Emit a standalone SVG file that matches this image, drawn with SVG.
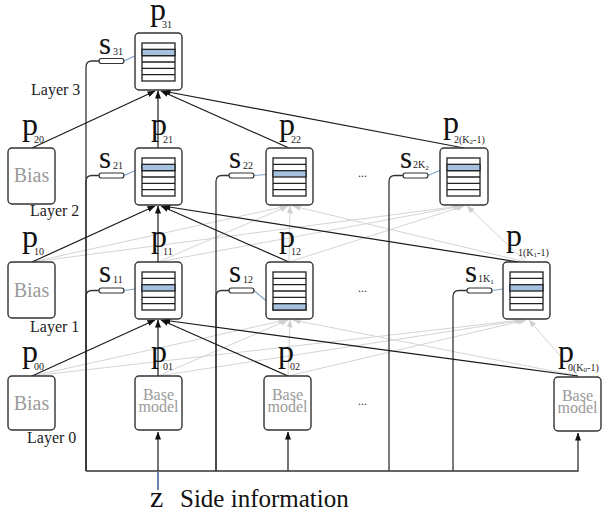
<svg xmlns="http://www.w3.org/2000/svg" width="602" height="512" viewBox="0 0 602 512" font-family="'Liberation Serif', 'DejaVu Serif', serif">
<defs>
<style>
text{font-family:'Liberation Serif','DejaVu Serif',serif}
.box{fill:#fff;stroke:#333;stroke-width:1.4}
.tbl{fill:#fff;stroke:#222;stroke-width:1.3}
.row{stroke:#222;stroke-width:1.3}
.hl{fill:#a4c2e0;stroke:#222;stroke-width:1.3}
.pill{fill:#fff;stroke:#333;stroke-width:1.2}
.wire{fill:none;stroke:#333;stroke-width:1.3}
.blk{fill:none;stroke:#1a1a1a;stroke-width:1.2;marker-end:url(#ab)}
.gry{fill:none;stroke:#d4d4d4;stroke-width:1;marker-end:url(#ag)}
.blu{fill:none;stroke:#7ea6cc;stroke-width:1.2;marker-end:url(#abl)}
.p{font-size:32px;fill:#111}
.s{font-size:31px;fill:#111}
.sub{font-size:10px;fill:#222}
.ssub{font-size:7px;fill:#222}
.lay{font-size:16px;fill:#222}
.bias{font-size:20px;fill:#9a9a9a}
.base{font-size:16px;fill:#9a9a9a}
.dots{font-size:12px;fill:#333}
</style>
<marker id="ab" markerWidth="8" markerHeight="6" refX="7.5" refY="3" orient="auto" markerUnits="userSpaceOnUse"><path d="M0,0 L8,3 L0,6 z" fill="#111"/></marker>
<marker id="ag" markerWidth="8" markerHeight="6" refX="7.5" refY="3" orient="auto" markerUnits="userSpaceOnUse"><path d="M0,0 L8,3 L0,6 z" fill="#d0d0d0"/></marker>
<marker id="abl" markerWidth="7" markerHeight="5" refX="6.5" refY="2.5" orient="auto" markerUnits="userSpaceOnUse"><path d="M0,0 L7,2.5 L0,5 z" fill="#7ea6cc"/></marker>
<g id="tbl1">
<rect class="tbl" x="0" y="0" width="33" height="38"/>
<rect class="hl" x="0" y="6.33" width="33" height="6.33"/>
<path class="row" d="M0,12.67H33M0,19H33M0,25.33H33M0,31.67H33"/>
</g>
<g id="tbl2">
<rect class="tbl" x="0" y="0" width="33" height="38"/>
<rect class="hl" x="0" y="12.67" width="33" height="6.33"/>
<path class="row" d="M0,6.33H33M0,25.33H33M0,31.67H33"/>
</g>
<g id="tbl5">
<rect class="tbl" x="0" y="0" width="33" height="38"/>
<rect class="hl" x="0" y="31.67" width="33" height="6.33"/>
<path class="row" d="M0,6.33H33M0,12.67H33M0,19H33M0,25.33H33"/>
</g>
</defs>
<rect width="602" height="512" fill="#fff"/>

<g id="connectors">
<g id="gray-links">
<path class="gry" d="M32,376 L286,320"/>
<path class="gry" d="M158,376 L288,320"/>
<path class="gry" d="M288,376 L290,320"/>
<path class="gry" d="M578,376 L293,320"/>
<path class="gry" d="M32,376 L522,320"/>
<path class="gry" d="M158,376 L524,320"/>
<path class="gry" d="M288,376 L526,320"/>
<path class="gry" d="M578,376 L529,320"/>
<path class="gry" d="M32,262 L287,206"/>
<path class="gry" d="M158,262 L288,206"/>
<path class="gry" d="M289,262 L290,206"/>
<path class="gry" d="M526,262 L293,206"/>
<path class="gry" d="M32,262 L460,206"/>
<path class="gry" d="M158,262 L462,206"/>
<path class="gry" d="M289,262 L464,206"/>
<path class="gry" d="M526,262 L467,206"/>
</g>
<g id="wires">
<path class="wire" d="M99,61 H92 Q86,61 86,67 V471"/>
<path class="wire" d="M99,175.5 H92 Q86,175.5 86,181.5 V471"/>
<path class="wire" d="M99,290.5 H92 Q86,290.5 86,296.5 V471"/>
<path class="wire" d="M229,175.5 H222 Q216,175.5 216,181.5 V471"/>
<path class="wire" d="M229,290.5 H222 Q216,290.5 216,296.5 V471"/>
<path class="wire" d="M403,175.5 H395 Q389,175.5 389,181.5 V471"/>
<path class="wire" d="M467,290.5 H459 Q453,290.5 453,296.5 V471"/>
<path class="wire" d="M86,471 H578 V433" marker-end="url(#ab)"/>
<path class="blk" d="M158,471 V432"/>
<path class="blk" d="M288,471 V432"/>
<path d="M158,472 V490" fill="none" stroke="#2b4f8c" stroke-width="1.4"/>
</g>
<g id="black-links">
<path class="blk" d="M32,148 L155,91"/>
<path class="blk" d="M158,148 L158,91"/>
<path class="blk" d="M289,148 L161,91"/>
<path class="blk" d="M464,148 L163,91"/>
<path class="blk" d="M32,262 L155,206"/>
<path class="blk" d="M158,262 L158,206"/>
<path class="blk" d="M289,262 L161,206"/>
<path class="blk" d="M519,262 L163,206"/>
<path class="blk" d="M32,376 L155,320"/>
<path class="blk" d="M158,376 L158,320"/>
<path class="blk" d="M288,376 L161,320"/>
<path class="blk" d="M578,376 L163,320"/>
</g>
<g id="selector-links">
<path class="blu" d="M124,61 L142,52.5"/>
<path class="blu" d="M124,175.5 L142,167.5"/>
<path class="blu" d="M254,175.5 L273,174"/>
<path class="blu" d="M428,175.5 L447,167.5"/>
<path class="blu" d="M124,290.5 L142,288"/>
<path class="blu" d="M254,290.5 L273,306.8"/>
<path class="blu" d="M492,290.5 L510,288"/>
</g>
</g>

<g id="p31">
<rect class="box" x="135" y="33" width="47" height="57" rx="4"/>
<use href="#tbl1" x="142" y="43"/>
<text class="p" x="150" y="20">p</text><text class="sub" x="162" y="28">31</text>
</g>
<g id="s31">
<rect class="pill" x="99" y="58.5" width="25" height="5" rx="2.5"/>
<text class="s" x="99" y="54">s</text><text class="sub" x="113" y="55">31</text>
</g>

<g id="p20">
<rect class="box" x="8" y="148" width="47" height="56" rx="4"/>
<text class="bias" x="31.5" y="182" text-anchor="middle">Bias</text>
<text class="p" x="22" y="135">p</text><text class="sub" x="34" y="143">20</text>
</g>
<g id="p21">
<rect class="box" x="135" y="148" width="47" height="57" rx="4"/>
<use href="#tbl1" x="142" y="158"/>
<text class="p" x="151" y="135">p</text><text class="sub" x="163" y="143">21</text>
</g>
<g id="s21">
<rect class="pill" x="99" y="173" width="25" height="5" rx="2.5"/>
<text class="s" x="99" y="168">s</text><text class="sub" x="113" y="169">21</text>
</g>
<g id="p22">
<rect class="box" x="266" y="148" width="47" height="57" rx="4"/>
<use href="#tbl2" x="273" y="158"/>
<text class="p" x="279" y="135">p</text><text class="sub" x="291" y="143">22</text>
</g>
<g id="s22">
<rect class="pill" x="229" y="173" width="25" height="5" rx="2.5"/>
<text class="s" x="229" y="168">s</text><text class="sub" x="243" y="169">22</text>
</g>
<g id="p2K">
<rect class="box" x="440" y="148" width="48" height="57" rx="4"/>
<use href="#tbl1" x="447" y="158"/>
<text class="p" x="443" y="133">p</text><text class="sub" x="454" y="143">2(K<tspan class="ssub" dy="1">2</tspan><tspan dy="-1">-1)</tspan></text>
</g>
<g id="s2K">
<rect class="pill" x="403" y="173" width="25" height="5" rx="2.5"/>
<text class="s" x="400" y="168">s</text><text class="sub" x="413" y="168">2K<tspan class="ssub" dy="2">2</tspan></text>
</g>
<text class="dots" x="358" y="177">...</text>

<g id="p10">
<rect class="box" x="8" y="262" width="47" height="56" rx="4"/>
<text class="bias" x="31.5" y="297" text-anchor="middle">Bias</text>
<text class="p" x="22" y="247">p</text><text class="sub" x="34" y="255">10</text>
</g>
<g id="p11">
<rect class="box" x="135" y="262" width="47" height="57" rx="4"/>
<use href="#tbl2" x="142" y="272"/>
<text class="p" x="151" y="247">p</text><text class="sub" x="163" y="255">11</text>
</g>
<g id="s11">
<rect class="pill" x="99" y="288" width="25" height="5" rx="2.5"/>
<text class="s" x="99" y="282">s</text><text class="sub" x="113" y="283">11</text>
</g>
<g id="p12">
<rect class="box" x="266" y="262" width="47" height="57" rx="4"/>
<use href="#tbl5" x="273" y="272"/>
<text class="p" x="279" y="247">p</text><text class="sub" x="291" y="255">12</text>
</g>
<g id="s12">
<rect class="pill" x="229" y="288" width="25" height="5" rx="2.5"/>
<text class="s" x="229" y="282">s</text><text class="sub" x="243" y="283">12</text>
</g>
<g id="p1K">
<rect class="box" x="503" y="262" width="47" height="57" rx="4"/>
<use href="#tbl2" x="510" y="272"/>
<text class="p" x="506" y="246">p</text><text class="sub" x="518" y="256">1(K<tspan class="ssub" dy="1">1</tspan><tspan dy="-1">-1)</tspan></text>
</g>
<g id="s1K">
<rect class="pill" x="467" y="288" width="25" height="5" rx="2.5"/>
<text class="s" x="465" y="282">s</text><text class="sub" x="478" y="282">1K<tspan class="ssub" dy="2">1</tspan></text>
</g>
<text class="dots" x="358" y="292">...</text>

<g id="p00">
<rect class="box" x="8" y="376" width="47" height="54" rx="4"/>
<text class="bias" x="31.5" y="410" text-anchor="middle">Bias</text>
<text class="p" x="22" y="362">p</text><text class="sub" x="34" y="370">00</text>
</g>
<g id="p01">
<rect class="box" x="135" y="376" width="47" height="54" rx="4"/>
<text class="base" x="158.5" y="400" text-anchor="middle">Base</text>
<text class="base" x="158.5" y="412" text-anchor="middle">model</text>
<text class="p" x="151" y="362">p</text><text class="sub" x="163" y="370">01</text>
</g>
<g id="p02">
<rect class="box" x="264" y="376" width="47" height="54" rx="4"/>
<text class="base" x="287.5" y="400" text-anchor="middle">Base</text>
<text class="base" x="287.5" y="412" text-anchor="middle">model</text>
<text class="p" x="278" y="362">p</text><text class="sub" x="290" y="370">02</text>
</g>
<g id="p0K">
<rect class="box" x="554" y="377" width="47" height="54" rx="4"/>
<text class="base" x="577.5" y="401" text-anchor="middle">Base</text>
<text class="base" x="577.5" y="413" text-anchor="middle">model</text>
<text class="p" x="558" y="362">p</text><text class="sub" x="568" y="371">0(K<tspan class="ssub" dy="1">0</tspan><tspan dy="-1">-1)</tspan></text>
</g>
<text class="dots" x="358" y="405">...</text>

<g id="layers">
<text class="lay" x="31" y="95">Layer 3</text>
<text class="lay" x="30" y="216">Layer 2</text>
<text class="lay" x="30" y="332">Layer 1</text>
<text class="lay" x="27" y="443">Layer 0</text>
</g>
<g id="side-info">
<text class="p" x="150" y="507" style="font-size:30px">z</text>
<text class="p" x="180" y="507" style="font-size:25px">Side information</text>
</g>
</svg>
